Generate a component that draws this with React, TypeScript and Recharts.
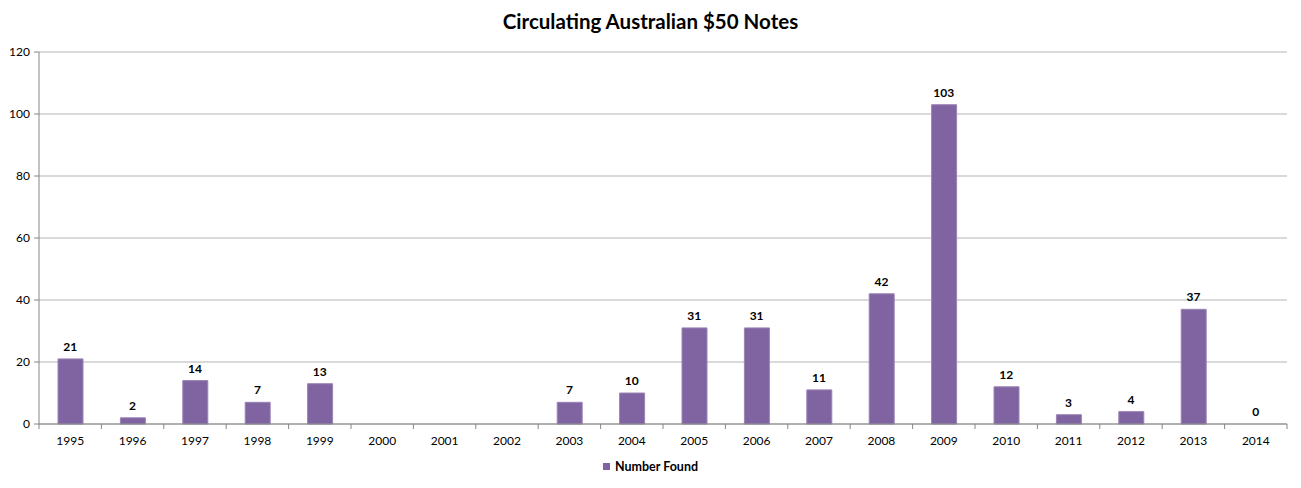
import React from "react";
import { ComposedChart, Bar, Line, XAxis, YAxis, CartesianGrid, LabelList } from "recharts";

const years = ["1995","1996","1997","1998","1999","2000","2001","2002","2003","2004","2005","2006","2007","2008","2009","2010","2011","2012","2013","2014"];
const numberFound: (number | null)[] = [21,2,14,7,13,null,null,null,7,10,31,31,11,42,103,12,3,4,37,0];
const yTicks = [0,20,40,60,80,100,120];

const data = years.map((y, i) => ({ year: y, found: numberFound[i] }));

const W = 1301, H = 488;
const X_H = 30;
const M = { top: 52, right: 14, bottom: 64 - X_H, left: 0 };
const Y_W = 39;
const band = (W - M.left - M.right - Y_W) / years.length;
const FONT = "Lato, 'Noto Sans', sans-serif";
const BAR = "#8064A2";

const XTick = (props: any) => {
  const { x, y, payload, index } = props;
  return (
    <g>
      <line x1={x - band / 2} x2={x - band / 2} y1={y - 8} y2={y - 3} stroke="#868686" />
      {index === years.length - 1 && (
        <line x1={x + band / 2} x2={x + band / 2} y1={y - 8} y2={y - 3} stroke="#868686" />
      )}
      <text x={x} y={y + 13} textAnchor="middle" fontSize={12} fill="#000" fontFamily={FONT}>
        {payload.value}
      </text>
    </g>
  );
};

const ValueLabel = (props: any) => {
  const { x, y, value } = props;
  if (value === null || value === undefined || y === null || y === undefined || isNaN(y)) return null;
  return (
    <text x={x} y={y - 8} textAnchor="middle" fontSize={12} fontWeight={700} fill="#000" fontFamily={FONT}>
      {value}
    </text>
  );
};

export default function App() {
  return (
    <div style={{ position: "absolute", left: 0, top: 0, width: W, height: H, background: "#fff", fontFamily: FONT }}>
      <div style={{ position: "absolute", left: 0, top: 9, width: W, textAlign: "center", fontSize: 20.5, fontWeight: 700, color: "#000" }}>
        Circulating Australian $50 Notes
      </div>
      <ComposedChart width={W} height={H} data={data} margin={M} barSize={25}>
        <CartesianGrid vertical={false} stroke="#b3b3b3" />
        <XAxis
          dataKey="year"
          height={X_H}
          tickLine={false}
          axisLine={{ stroke: "#868686" }}
          tick={<XTick />}
          interval={0}
        />
        <YAxis
          width={Y_W}
          domain={[0, 120]}
          ticks={yTicks}
          interval={0}
          axisLine={{ stroke: "#868686" }}
          tickLine={{ stroke: "#868686" }}
          tickSize={5}
          tickMargin={4}
          tick={{ fontSize: 12, fill: "#000", fontFamily: FONT }}
        />
        <Bar dataKey="found" name="Number Found" fill={BAR} stroke="#9a84b6" isAnimationActive={false} />
        <Line
          dataKey="found"
          stroke="none"
          dot={false}
          activeDot={false}
          legendType="none"
          isAnimationActive={false}
        >
          <LabelList dataKey="found" content={<ValueLabel />} />
        </Line>
      </ComposedChart>
      <div style={{ position: "absolute", left: 0, top: 459, width: W, display: "flex", justifyContent: "center", alignItems: "center", fontSize: 12.5, fontWeight: 700, color: "#000" }}>
        <span style={{ display: "inline-block", width: 7, height: 7, background: BAR, marginRight: 5 }} />
        <span>Number Found</span>
      </div>
    </div>
  );
}
